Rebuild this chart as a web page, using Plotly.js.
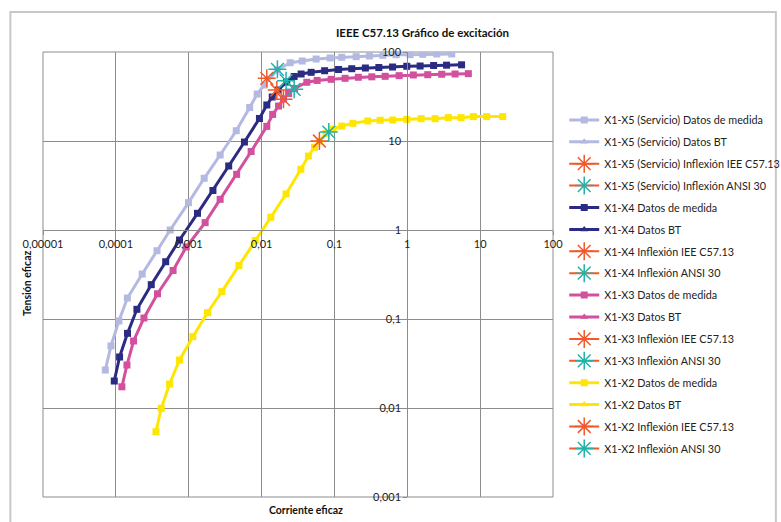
<!DOCTYPE html>
<html>
<head>
<meta charset="utf-8">
<script src="https://cdn.plot.ly/plotly-3.0.1.min.js"></script>
<style>html,body{margin:0;padding:0;background:#fff;}#chart{width:781px;height:522px;}</style>
</head>
<body>
<div id="chart"></div>
<script>
// X1-X5 (Servicio) measured data
const x5Current = [7.16e-5, 8.57e-5, 1.10e-4, 1.44e-4, 2.30e-4, 3.67e-4, 5.57e-4, 9.93e-4, 1.63e-3, 2.70e-3, 4.49e-3, 6.87e-3, 8.71e-3, 1.09e-2, 1.64e-2, 2.47e-2, 3.61e-2, 5.61e-2, 8.73e-2, 0.126, 0.199, 0.302, 0.461, 0.702, 1.09, 1.63, 2.54, 4.08];
const x5Voltage = [0.0267, 0.0498, 0.095, 0.172, 0.32, 0.585, 1.0, 2.03, 3.81, 6.96, 13.05, 23.8, 33.7, 42.6, 62.8, 75.8, 79.2, 83.4, 85.7, 87.2, 88.6, 90.2, 91.8, 93.3, 93.3, 94.2, 95.0, 95.0];
// X1-X4 measured data
const x4Current = [9.51e-5, 1.125e-4, 1.445e-4, 1.945e-4, 3.06e-4, 4.83e-4, 7.48e-4, 1.32e-3, 2.15e-3, 3.54e-3, 5.82e-3, 9.35e-3, 1.18e-2, 1.40e-2, 1.69e-2, 2.21e-2, 2.80e-2, 3.49e-2, 4.79e-2, 7.34e-2, 0.114, 0.173, 0.266, 0.407, 0.628, 0.984, 1.50, 2.30, 3.46, 5.56];
const x4Voltage = [0.0201, 0.0374, 0.069, 0.1285, 0.243, 0.44, 0.772, 1.54, 2.78, 5.24, 9.74, 17.9, 25.4, 31.2, 37.4, 46.0, 53.1, 56.6, 59.1, 61.6, 63.6, 64.9, 66.1, 67.0, 67.8, 69.1, 69.6, 70.5, 71.1, 71.8];
// X1-X3 measured data
const x3Current = [1.21e-4, 1.42e-4, 1.75e-4, 2.43e-4, 3.73e-4, 6.10e-4, 9.25e-4, 1.68e-3, 2.70e-3, 4.55e-3, 7.19e-3, 1.18e-2, 1.42e-2, 1.71e-2, 2.00e-2, 2.35e-2, 2.84e-2, 4.18e-2, 5.79e-2, 9.02e-2, 0.140, 0.213, 0.326, 0.497, 0.773, 1.21, 1.91, 2.97, 4.53, 6.89];
const x3Voltage = [0.0173, 0.0304, 0.0566, 0.1026, 0.192, 0.351, 0.644, 1.21, 2.21, 4.22, 7.62, 14.6, 19.9, 24.7, 29.6, 34.2, 38.9, 45.7, 47.9, 49.3, 50.6, 52.0, 52.6, 53.3, 54.2, 55.2, 55.6, 56.2, 56.6, 57.1];
// X1-X2 measured data
const x2Current = [3.55e-4, 4.20e-4, 5.46e-4, 7.48e-4, 1.14e-3, 1.81e-3, 2.85e-3, 4.89e-3, 8.17e-3, 1.34e-2, 2.17e-2, 3.46e-2, 4.40e-2, 5.32e-2, 6.22e-2, 7.69e-2, 9.59e-2, 0.126, 0.179, 0.287, 0.424, 0.632, 0.984, 1.55, 2.41, 3.66, 5.47, 8.07, 12.3, 20.4];
const x2Voltage = [0.00542, 0.00993, 0.0186, 0.0346, 0.0633, 0.1177, 0.203, 0.399, 0.762, 1.39, 2.54, 4.81, 6.78, 8.49, 10.0, 12.2, 13.6, 14.7, 15.8, 16.8, 17.1, 17.2, 17.5, 17.8, 17.8, 18.3, 18.3, 18.8, 18.8, 18.8];
// Datos BT (no points visible)
const btCurrent = [];
const btVoltage = [];
// Inflection points [X5, X4, X3, X2]
const ieeeCurrent = [0.0118, 0.0162, 0.0200, 0.0622];
const ieeeVoltage = [50.6, 37.4, 29.4, 10.0];
const ansiCurrent = [0.0165, 0.0217, 0.0280, 0.0837];
const ansiVoltage = [63.9, 47.6, 38.1, 12.6];
const seriesNames = ['X1-X5 (Servicio)', 'X1-X4', 'X1-X3', 'X1-X2'];
const xTickVals = [1e-5, 1e-4, 1e-3, 1e-2, 1e-1, 1, 10, 100];
const xTickText = ['0,00001', '0,0001', '0,001', '0,01', '0,1', '1', '10', '100'];
const yTickVals = [1e-3, 1e-2, 1e-1, 1, 10, 100];
const yTickText = ['0,001', '0,01', '0,1', '1', '10', '100'];

const colors = ['#B4B9E1', '#2B2B83', '#D2509D', '#FFE600'];
const orange = '#F0592B';
const teal = '#22B2AA';
const measured = [[x5Current, x5Voltage], [x4Current, x4Voltage], [x3Current, x3Voltage], [x2Current, x2Voltage]];

const traces = [];
seriesNames.forEach((name, i) => {
  traces.push({
    x: measured[i][0], y: measured[i][1], type: 'scatter', mode: 'lines+markers',
    name: name + ' Datos de medida', legendgroup: 'g' + (i * 4),
    line: {color: colors[i], width: 3}, marker: {symbol: 'square', size: 7, color: colors[i]}
  });
  traces.push({
    x: btCurrent.length ? btCurrent : [null], y: btVoltage.length ? btVoltage : [null], type: 'scatter', mode: 'lines+markers',
    name: name + ' Datos BT', legendgroup: 'g' + (i * 4 + 1),
    line: {color: colors[i], width: 3}, marker: {symbol: 'triangle-up', size: 7, color: colors[i]}
  });
  traces.push({
    x: [ieeeCurrent[i]], y: [ieeeVoltage[i]], type: 'scatter', mode: 'lines+markers',
    name: name + ' Inflexión IEE C57.13', legendgroup: 'g' + (i * 4 + 2),
    line: {color: orange, width: 2}, marker: {symbol: 'asterisk-open', size: 15, color: orange, line: {color: orange, width: 1.5}}
  });
  traces.push({
    x: [ansiCurrent[i]], y: [ansiVoltage[i]], type: 'scatter', mode: 'lines+markers',
    name: name + ' Inflexión ANSI 30', legendgroup: 'g' + (i * 4 + 3),
    line: {color: orange, width: 2}, marker: {symbol: 'asterisk-open', size: 15, color: teal, line: {color: teal, width: 1.5}}
  });
});

const fontFam = 'Lato, "Liberation Sans", sans-serif';
const gridCol = '#8C8C8C';
const layout = {
  width: 781, height: 522,
  margin: {l: 43, r: 228, t: 52, b: 25, autoexpand: false},
  paper_bgcolor: '#ffffff', plot_bgcolor: '#ffffff',
  font: {family: fontFam, size: 11, color: '#222'},
  title: {text: '<b>IEEE C57.13 Gráfico de excitación</b>', x: 0.541, xref: 'container', xanchor: 'center', y: 0.945, yref: 'container', font: {family: fontFam, size: 11.5, color: '#111'}},
  showlegend: true,
  legend: {x: 1.022, xanchor: 'left', y: 0.88, yanchor: 'top', traceorder: 'grouped', tracegroupgap: 2.9,
    font: {family: fontFam, size: 10.8, color: '#222'}, bgcolor: 'rgba(0,0,0,0)', itemwidth: 30},
  xaxis: {type: 'log', range: [-5, 2], anchor: 'free', position: 0.6, tickvals: xTickVals, ticktext: xTickText,
    showgrid: true, gridcolor: gridCol, gridwidth: 1, showline: true, linecolor: gridCol, linewidth: 1,
    ticks: 'outside', ticklen: 4, tickcolor: gridCol, zeroline: false, tickfont: {size: 11, color: '#222'}, fixedrange: true},
  yaxis: {type: 'log', range: [-3, 2], anchor: 'free', position: 5 / 7, tickvals: yTickVals, ticktext: yTickText,
    showgrid: true, gridcolor: gridCol, gridwidth: 1, showline: true, linecolor: gridCol, linewidth: 1,
    ticks: 'outside', ticklen: 4, tickcolor: gridCol, zeroline: false, tickfont: {size: 11, color: '#222'}, fixedrange: true},
  shapes: [
    {type: 'rect', xref: 'paper', yref: 'paper', x0: 0, x1: 1, y0: 0, y1: 1, line: {color: gridCol, width: 1}, layer: 'below'},
    {type: 'rect', xref: 'paper', yref: 'paper', x0: -0.064, x1: 1.437, y0: -0.07, y1: 1.0899, line: {color: '#C8C8C8', width: 2}}
  ],
  annotations: [
    {text: '<b>Corriente eficaz</b>', xref: 'paper', yref: 'paper', x: 0.515, y: -0.029, xanchor: 'center', yanchor: 'middle', showarrow: false, font: {family: fontFam, size: 10.5, color: '#111'}},
    {text: '<b>Tensión eficaz</b>', xref: 'paper', yref: 'paper', x: -0.03, y: 0.48, xanchor: 'center', yanchor: 'middle', textangle: -90, showarrow: false, font: {family: fontFam, size: 10.5, color: '#111'}}
  ]
};
Plotly.newPlot('chart', traces, layout, {displayModeBar: false, staticPlot: true});
</script>
</body>
</html>
